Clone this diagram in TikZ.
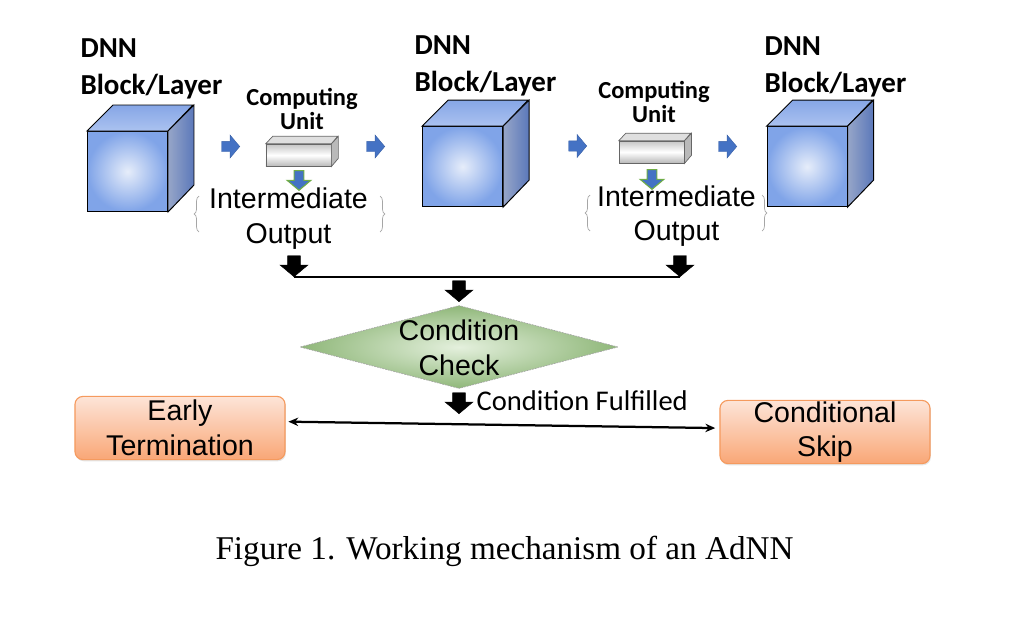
\documentclass[tikz,border=0pt]{standalone}
\usepackage{fontspec}
\setmainfont{Liberation Sans}
\newfontfamily\calibri{Carlito}
\newfontfamily\timesfont{Liberation Serif}
\usetikzlibrary{shapes.geometric, shapes.arrows, decorations.pathreplacing, shadows, arrows.meta}

\definecolor{cubelight}{HTML}{E6EDFA}
\definecolor{cubedark}{HTML}{80A4E8}
\definecolor{cubetop}{HTML}{86A6E6}
\definecolor{cubetoplight}{HTML}{ABC2F0}
\definecolor{cubeside}{HTML}{5B78BA}
\definecolor{cubesidelight}{HTML}{97A6C8}
\definecolor{arrblue}{HTML}{4472C4}
\definecolor{arrgreen}{HTML}{70AD47}
\definecolor{checklight}{HTML}{E4F0DD}
\definecolor{checkdark}{HTML}{8FB779}
\definecolor{boxtop}{HTML}{FDE5D8}
\definecolor{boxbottom}{HTML}{F9A676}
\definecolor{boxline}{HTML}{F59A5E}

\begin{document}
\begin{tikzpicture}[x=0.025cm, y=-0.025cm, line width=0.8pt,
  front/.style={draw=black, line width=0.7pt, minimum size=2cm, inner sep=0,
    inner color=cubelight, outer color=cubedark},
  unit/.style={draw=gray!80!black, line width=0.5pt, minimum width=1.625cm, minimum height=0.55cm,
    inner sep=0, top color=gray!45, bottom color=gray!55, middle color=white},
  blockarrow/.style={single arrow, inner xsep=0, single arrow tip angle=100},
  bluearrow/.style={blockarrow, fill=arrblue, draw=arrblue!85!black, line width=0.3pt,
    inner ysep=0.125cm, minimum height=0.45cm, minimum width=0.5625cm, single arrow head extend=0.156cm},
  greenarrow/.style={blockarrow, fill=arrblue, draw=arrgreen, line width=0.8pt, rotate=-90,
    inner ysep=0.109cm, minimum height=0.49cm, minimum width=0.5625cm, single arrow head extend=0.172cm},
  blackarrow/.style={blockarrow, fill=black, draw=black, line width=0.3pt, inner ysep=0.156cm,
    minimum height=0.525cm, minimum width=0.6875cm, single arrow head extend=0.1875cm, rotate=-90},
  dnnlabel/.style={anchor=west, align=left, inner sep=0, font=\calibri\bfseries\fontsize{20.6}{26.3}\selectfont},
  unitlabel/.style={align=center, inner sep=0, font=\calibri\bfseries\fontsize{17.4}{17.2}\selectfont},
  arial/.style={align=center, inner sep=0, font=\fontsize{20.3}{24.5}\selectfont},
  result/.style={draw=boxline, line width=0.8pt, rounded corners=0.2cm, minimum width=5.25cm,
    minimum height=1.58cm, top color=boxtop, bottom color=boxbottom,
    drop shadow={opacity=0.2, shadow xshift=0.6pt, shadow yshift=-1.2pt}},
  brace/.style={draw=gray!70, line width=0.5pt, decorate, decoration={brace, amplitude=3.5pt}}]

% Fix the margins
\useasboundingbox (0,0) rectangle (1017,619);

% DNN blocks (front faces)
\node[front] (B1) at (127.5,171.5) {};
\node[front] (B2) at (462.5,166.7) {};
\node[front] (B3) at (807,166.7) {};

% Top and side faces of the blocks
\foreach \n in {B1,B2,B3} {
  \draw[line width=0.7pt, top color=cubetop, bottom color=cubetoplight]
    (\n.north west) -- ++(26,-26) -- ++(80,0) -- (\n.north east) -- cycle;
  \draw[line width=0.7pt, left color=cubesidelight, right color=cubeside]
    (\n.north east) -- ++(26,-26) -- ++(0,80) -- (\n.south east) -- cycle;
}

% Block labels
\node[dnnlabel] (L1) at (80,68.5) {DNN\\Block/Layer};
\node[dnnlabel] (L2) at (414,66) {DNN\\Block/Layer};
\node[dnnlabel] (L3) at (764,66.5) {DNN\\Block/Layer};

% Computing units
\node[unit] (C1) at (298.5,155.2) {};
\node[unit] (C2) at (651.7,152) {};
\foreach \n in {C1,C2} {
  \draw[line width=0.5pt, draw=gray!80!black, fill=gray!25]
    (\n.north west) -- ++(7,-7.5) -- ++(65,0) -- (\n.north east) -- cycle;
  \draw[line width=0.5pt, draw=gray!80!black, fill=gray!55]
    (\n.north east) -- ++(7,-7.5) -- ++(0,22) -- (\n.south east) -- cycle;
}
\node[unitlabel] (U1) at (302,109) {Computing\\Unit};
\node[unitlabel] (U2) at (654,102) {Computing\\Unit};

% Blue arrows between blocks and units
\node[bluearrow, anchor=tip] (A1) at (240,146.5) {};
\node[bluearrow, anchor=tip] (A2) at (385,146.5) {};
\node[bluearrow, anchor=tip] (A3) at (587,146) {};
\node[bluearrow, anchor=tip] (A4) at (737,146.5) {};

% Intermediate outputs
\node[greenarrow, anchor=tip] (G1) at (299,191) {};
\node[greenarrow, anchor=tip] (G2) at (652,190) {};
\node[arial] (I1) at (288.5,218.5) {Intermediate\\Output};
\node[arial] (I2) at (676.5,216) {Intermediate\\Output};
\draw[brace] (199,232) -- (199,196);
\draw[brace] (380,196) -- (380,232);
\draw[brace] (590,231) -- (590,195);
\draw[brace] (762,195) -- (762,231);

% Collect the outputs
\node[blackarrow, anchor=tip] (D1) at (294,277) {};
\node[blackarrow, anchor=tip] (D2) at (680,277) {};
\draw[line width=1.6pt] (D1.tip) -- (D2.tip);
\node[blackarrow, anchor=tip] (D3) at (459,302) {};

% Condition check
\node[diamond, minimum width=7.95cm, minimum height=2.075cm, inner sep=0,
  inner color=checklight, outer color=checkdark, draw=gray!70,
  line width=0.5pt, dash pattern=on 1.2pt off 0.8pt] (K) at (459,347) {};
\node[arial] (KT) at (459,348) {Condition\\Check};

% Condition fulfilled
\node[blackarrow, anchor=tip] (D4) at (459,414) {};
\node[anchor=west, inner sep=0, font=\calibri\fontsize{20.3}{24}\selectfont] (F) at (476,401) {Condition Fulfilled};

% Results
\node[result, arial] (E) at (180,428) {Early\\Termination};
\node[result, arial] (S) at (825,432) {Conditional\\Skip};
\draw[{Stealth[length=7pt,width=6pt]}-{Stealth[length=7pt,width=6pt]}, line width=1.6pt]
  ([xshift=2pt,yshift=4.5pt]E.east) -- ([xshift=-3pt,yshift=2.8pt]S.west);

% Caption
\node[inner sep=0, font=\timesfont\fontsize{23.6}{28}\selectfont] (T) at (504.5,551)
  {Figure 1. Working mechanism of an AdNN};

\end{tikzpicture}
\end{document}
